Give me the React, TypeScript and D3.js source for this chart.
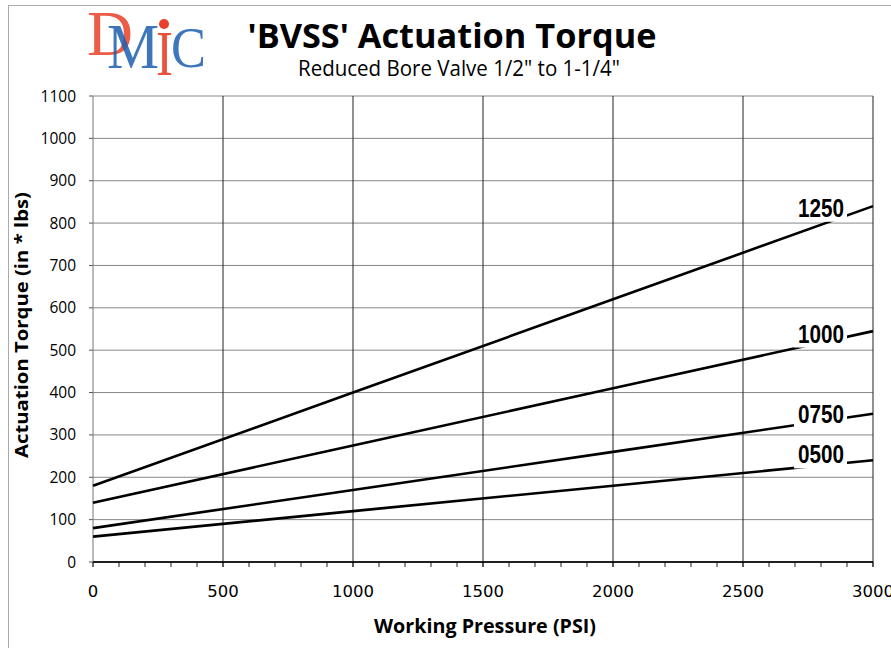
import * as d3 from 'd3';
import React from 'react';

// working pressure (psi) sample points
const pressure = [0, 1000, 2000, 3000];
// actuation torque (in*lbs) for each valve size
const seriesNames = ['1250', '1000', '0750', '0500'];
const torque1250 = [180, 400, 620, 840];
const torque1000 = [140, 275, 410, 545];
const torque0750 = [80, 170, 260, 350];
const torque0500 = [60, 120, 180, 240];
const xTicks = [0, 500, 1000, 1500, 2000, 2500, 3000];
const yTicks = [0, 100, 200, 300, 400, 500, 600, 700, 800, 900, 1000, 1100];

const W = 891;
const H = 648;
const plot = { left: 93, right: 873, top: 96, bottom: 562 };

const labelOffsets = [-8, 0, 2, -2];

function App() {
  const x = d3.scaleLinear().domain([0, 3000]).range([plot.left, plot.right]);
  const y = d3.scaleLinear().domain([0, 1100]).range([plot.bottom, plot.top]);
  const all = [torque1250, torque1000, torque0750, torque0500];
  const line = d3
    .line<number>()
    .x((_, i) => x(pressure[i]))
    .y((d) => y(d));
  const minor = d3.range(0, 3001, 100);
  const labelPsi = 2800;

  return (
    <svg width={W} height={H} style={{ position: 'absolute', left: 0, top: 0, background: '#fff' }}>
      <rect x={8.5} y={5.5} width={1000} height={1000} fill="#fff" stroke="#aaa" />

      {/* logo */}
      <g fontFamily="Liberation Serif, serif">
        <text x={87} y={55} fontSize={63} fill="#e8402a" opacity={0.85} textLength={46} lengthAdjust="spacingAndGlyphs">D</text>
        <text x={107} y={68} fontSize={64} fill="#1c5fb0" opacity={0.85} textLength={52} lengthAdjust="spacingAndGlyphs">M</text>
        <text x={156} y={75} fontSize={64} fill="#e8402a" opacity={0.9} textLength={17} lengthAdjust="spacingAndGlyphs">I</text>
        <circle cx={164} cy={24} r={5} fill="#e8402a" />
        <text x={171} y={67} fontSize={58} fill="#1c5fb0" opacity={0.85} textLength={35} lengthAdjust="spacingAndGlyphs">C</text>
      </g>

      {/* titles */}
      <text x={452} y={48} textAnchor="middle" fontFamily="Open Sans, sans-serif" fontWeight={700} fontSize={34}
        textLength={409} lengthAdjust="spacingAndGlyphs">'BVSS' Actuation Torque</text>
      <text x={459} y={76} textAnchor="middle" fontFamily="Open Sans, sans-serif" fontSize={21}
        textLength={322} lengthAdjust="spacingAndGlyphs">Reduced Bore Valve 1/2" to 1-1/4"</text>

      {/* horizontal grid */}
      {yTicks.map((t) => (
        <line key={'h' + t} x1={plot.left} x2={plot.right} y1={y(t)} y2={y(t)} stroke={t === 0 ? '#000' : '#888'} strokeWidth={1} />
      ))}
      {yTicks.map((t) => (
        <line key={'yt' + t} x1={plot.left - 4} x2={plot.left} y1={y(t)} y2={y(t)} stroke="#555" />
      ))}
      {/* vertical grid */}
      {xTicks.map((t) => (
        <line key={'v' + t} x1={x(t)} x2={x(t)} y1={plot.top} y2={plot.bottom + 5} stroke={t === 0 ? '#777' : '#222'} strokeWidth={1} />
      ))}
      {minor.map((t) => (
        <line key={'m' + t} x1={x(t)} x2={x(t)} y1={plot.bottom} y2={plot.bottom + 5} stroke="#222" />
      ))}
      <line x1={plot.left} x2={plot.right} y1={plot.bottom} y2={plot.bottom} stroke="#000" strokeWidth={1.5} />

      {/* series */}
      {all.map((s, i) => (
        <path key={'s' + i} d={line(s) || ''} fill="none" stroke="#000" strokeWidth={2.6} />
      ))}

      {/* series labels */}
      {all.map((s, i) => {
        const v = d3.scaleLinear().domain(pressure).range(s)(labelPsi);
        const by = y(v) + labelOffsets[i];
        return (
          <g key={'l' + i}>
            <rect x={x(labelPsi) - 27} y={by - 21} width={53} height={26} fill="#fff" />
            <text x={x(labelPsi)} y={by} textAnchor="middle" fontFamily="Liberation Sans Narrow, Liberation Sans, sans-serif"
              fontWeight={700} fontSize={26} textLength={46} lengthAdjust="spacingAndGlyphs">{seriesNames[i]}</text>
          </g>
        );
      })}

      {/* y tick labels */}
      {yTicks.map((t) => (
        <text key={'yl' + t} x={76} y={y(t) + 5.5} textAnchor="end" fontFamily="Open Sans, sans-serif" fontSize={15.5}>{t}</text>
      ))}
      {/* x tick labels */}
      {xTicks.map((t) => (
        <text key={'xl' + t} x={x(t)} y={597} textAnchor="middle" fontFamily="DejaVu Sans, sans-serif" fontSize={16.5}>{t}</text>
      ))}

      {/* axis titles */}
      <text x={485} y={633} textAnchor="middle" fontFamily="Open Sans, sans-serif" fontWeight={700} fontSize={19}
        textLength={222} lengthAdjust="spacingAndGlyphs">Working Pressure (PSI)</text>
      <text transform="translate(28,325) rotate(-90)" textAnchor="middle" fontFamily="Open Sans, sans-serif" fontWeight={700}
        fontSize={17} textLength={266} lengthAdjust="spacingAndGlyphs">Actuation Torque (in * lbs)</text>
    </svg>
  );
}

export default App;
